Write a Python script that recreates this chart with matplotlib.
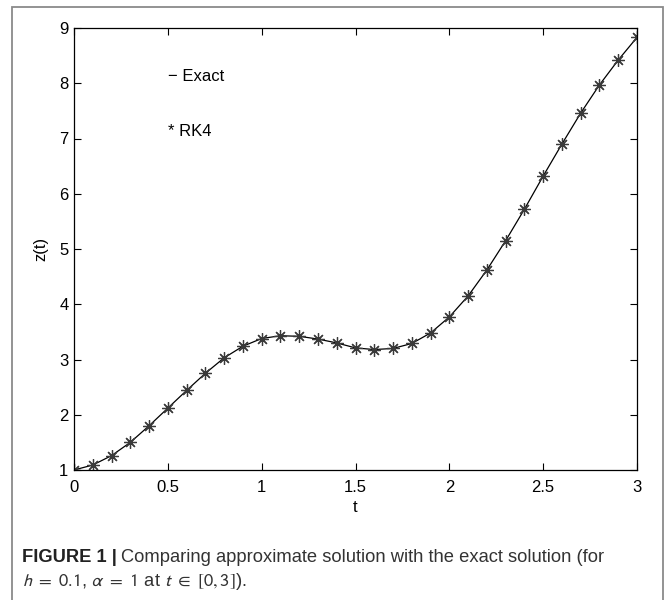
import matplotlib
matplotlib.use("Agg")
import matplotlib.pyplot as plt
from matplotlib.patches import Rectangle

# z(t) values, step h = 0.1
t = [0.0, 0.1, 0.2, 0.3, 0.4, 0.5, 0.6, 0.7, 0.8, 0.9, 1.0,
     1.1, 1.2, 1.3, 1.4, 1.5, 1.6, 1.7, 1.8, 1.9, 2.0,
     2.1, 2.2, 2.3, 2.4, 2.5, 2.6, 2.7, 2.8, 2.9, 3.0]
z_exact = [1.00, 1.09, 1.26, 1.50, 1.80, 2.12, 2.44, 2.75, 3.03, 3.24, 3.38,
           3.43, 3.42, 3.37, 3.30, 3.21, 3.18, 3.20, 3.29, 3.48, 3.77,
           4.15, 4.62, 5.15, 5.72, 6.32, 6.90, 7.46, 7.97, 8.42, 8.83]
z_rk4 = [1.00, 1.09, 1.26, 1.50, 1.80, 2.12, 2.44, 2.75, 3.03, 3.24, 3.38,
         3.43, 3.42, 3.37, 3.30, 3.21, 3.18, 3.20, 3.29, 3.48, 3.77,
         4.15, 4.62, 5.15, 5.72, 6.32, 6.90, 7.46, 7.97, 8.42, 8.83]
xticks = [0, 0.5, 1, 1.5, 2, 2.5, 3]
xticklabels = ["0", "0.5", "1", "1.5", "2", "2.5", "3"]
yticks = [1, 2, 3, 4, 5, 6, 7, 8, 9]

plt.rcParams["font.family"] = ["Liberation Sans", "DejaVu Sans"]
plt.rcParams["mathtext.fontset"] = "stixsans"

fig = plt.figure(figsize=(6.7, 6.0), dpi=100)

# grey frame around the whole figure panel
fig.patches.append(Rectangle((12 / 670, -0.05), 651 / 670, 0.05 + 593 / 600,
                             transform=fig.transFigure, fill=False,
                             edgecolor="#8a8a8a", linewidth=1.3))

ax = fig.add_axes([74 / 670, 130 / 600, 563 / 670, 442 / 600])
ax.plot(t, z_exact, color="black", linewidth=0.9)
ax.plot(t, z_rk4, linestyle="none", marker=(8, 2, 0), markersize=9,
        markeredgecolor="#3a3a3a", markeredgewidth=0.9)

ax.set_xlim(0, 3)
ax.set_ylim(1, 9)
ax.set_xticks(xticks)
ax.set_xticklabels(xticklabels)
ax.set_yticks(yticks)
ax.tick_params(direction="in", top=True, right=True, length=5, width=0.8,
               labelsize=12)
ax.tick_params(axis="x", pad=7)
ax.tick_params(axis="y", pad=4)
for s in ax.spines.values():
    s.set_linewidth(0.9)

ax.set_xlabel("t", fontsize=12, labelpad=4)
ax.set_ylabel("z(t)", fontsize=12, labelpad=8)

ax.text(0.5, 8.12, "\u2212 Exact", fontsize=12, va="center", ha="left")
ax.text(0.5, 7.12, "* RK4", fontsize=12, va="center", ha="left")

# caption
cap_y1 = 1 - 558 / 600
cap_y2 = 1 - 582 / 600
bold = fig.text(22 / 670, cap_y1, "FIGURE 1 |", fontsize=13.2,
                fontweight="bold", color="#222222", va="center", ha="left")
fig.canvas.draw()
bb = bold.get_window_extent().transformed(fig.transFigure.inverted())
fig.text(bb.x1 + 4 / 670, cap_y1,
         "Comparing approximate solution with the exact solution (for",
         fontsize=13.2, color="#333333", va="center", ha="left")
fig.text(22 / 670, cap_y2,
         r"$h\ =\ 0.1$, $\alpha\ =\ 1$ at $t\ \in\ [0, 3]$).",
         fontsize=13.2, color="#333333", va="center", ha="left")

fig.savefig("out.png", dpi=100)
